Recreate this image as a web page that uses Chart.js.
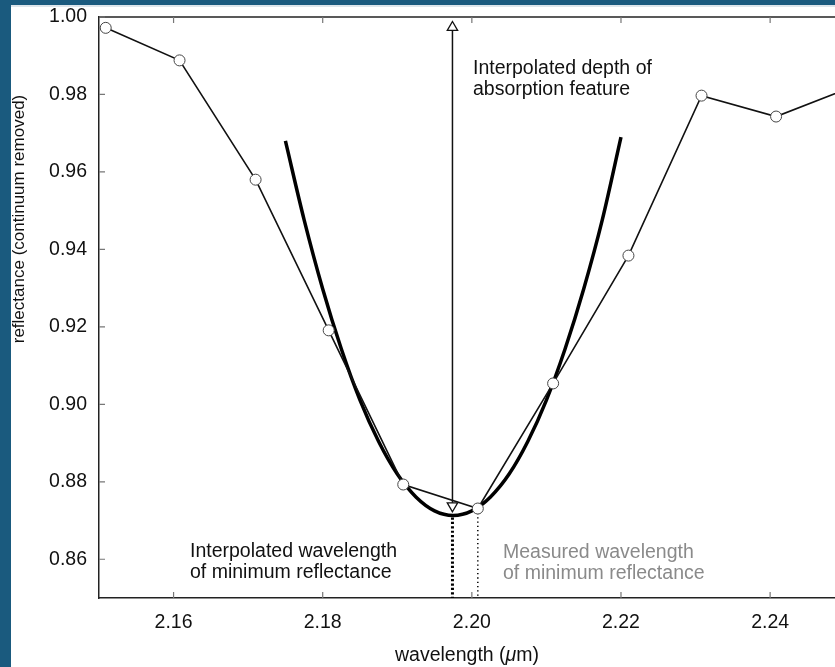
<!DOCTYPE html>
<html>
<head>
<meta charset="utf-8">
<script src="https://cdn.jsdelivr.net/npm/chart.js@4.4.1/dist/chart.umd.min.js"></script>
<style>
    html, body { margin: 0; padding: 0; background: #fff; }
    body { width: 835px; height: 667px; position: relative; overflow: hidden; }
    #topBar { position: absolute; left: 0; top: 0; width: 835px; height: 5px; background: #1a5a7e; border-bottom: 2px solid #dde5eb; }
    #leftBar { position: absolute; left: 0; top: 0; width: 11px; height: 667px; background: #1a5a7e; }
    #chart { position: absolute; left: 0; top: 0; }
</style>
</head>
<body>
<div id="topBar"></div>
<div id="leftBar"></div>
<canvas id="chart" width="835" height="667"></canvas>
<script>
// Measured spectrum (continuum removed)
const wavelengths = [2.1509, 2.1608, 2.1710, 2.1808, 2.1908, 2.2008, 2.2109, 2.2210, 2.2308, 2.2408, 2.2508];
const reflectance = [0.9972, 0.9888, 0.9580, 0.9191, 0.8793, 0.8731, 0.9054, 0.9384, 0.9797, 0.9743, 0.9818];

// Fitted curve through the minimum
const fitWavelengths = [2.175, 2.1775, 2.180, 2.1825, 2.185, 2.1875, 2.190, 2.1925, 2.195, 2.1975,
                        2.200, 2.2025, 2.205, 2.2075, 2.210, 2.2125, 2.215, 2.2175, 2.220];
const fitReflectance = [0.9680, 0.9477, 0.9298, 0.9143, 0.9011, 0.8904, 0.8820, 0.8761, 0.8725, 0.8713,
                        0.8725, 0.8761, 0.8820, 0.8904, 0.9011, 0.9143, 0.9298, 0.9477, 0.9690];

// Depth arrow and minimum markers
const arrowWavelength = [2.1974, 2.1974];
const arrowReflectance = [0.8738, 0.9973];
const interpMinWavelength = [2.1974, 2.1974];
const interpMinReflectance = [0.8708, 0.85];
const measMinWavelength = [wavelengths[5], wavelengths[5]];
const measMinReflectance = [reflectance[5], 0.85];

// Axes
const xTicks = [2.16, 2.18, 2.20, 2.22, 2.24];
const yTicks = [0.86, 0.88, 0.90, 0.92, 0.94, 0.96, 0.98, 1.00];

const FONT = "'Liberation Sans', Arial, Helvetica, sans-serif";
const FONT_SIZE = 19.5;

const pts = (xs, ys) => xs.map((x, i) => ({ x: x, y: ys[i] }));

// Inward ticks, top spine, axis titles and the notes
const extras = {
    id: 'extras',
    afterDraw(chart) {
        const ctx = chart.ctx;
        const area = chart.chartArea;
        const sx = chart.scales.x;
        const sy = chart.scales.y;
        ctx.save();

        ctx.strokeStyle = '#222';
        ctx.lineWidth = 1.5;
        ctx.beginPath();
        ctx.moveTo(area.left, area.top);
        ctx.lineTo(area.right, area.top);
        ctx.stroke();

        ctx.strokeStyle = '#777';
        ctx.lineWidth = 1.2;
        ctx.beginPath();
        xTicks.forEach(v => {
            const px = sx.getPixelForValue(v);
            ctx.moveTo(px, area.bottom);
            ctx.lineTo(px, area.bottom - 6);
            ctx.moveTo(px, area.top);
            ctx.lineTo(px, area.top + 6);
        });
        yTicks.forEach(v => {
            const py = sy.getPixelForValue(v);
            ctx.moveTo(area.left, py);
            ctx.lineTo(area.left + 6, py);
        });
        ctx.stroke();

        ctx.textBaseline = 'alphabetic';
        ctx.textAlign = 'left';

        // x title with italic mu
        const parts = [['wavelength (', ''], ['\u03bc', 'italic '], ['m)', '']];
        let total = 0;
        parts.forEach(p => { ctx.font = `${p[1]}${FONT_SIZE}px ${FONT}`; total += ctx.measureText(p[0]).width; });
        let tx = 467 - total / 2;
        ctx.fillStyle = '#111';
        parts.forEach(p => {
            ctx.font = `${p[1]}${FONT_SIZE}px ${FONT}`;
            ctx.fillText(p[0], tx, 661);
            tx += ctx.measureText(p[0]).width;
        });

        // y title
        ctx.font = `17px ${FONT}`;
        ctx.save();
        ctx.translate(24, 219);
        ctx.rotate(-Math.PI / 2);
        ctx.textAlign = 'center';
        ctx.fillText('reflectance (continuum removed)', 0, 0);
        ctx.restore();

        // notes
        ctx.font = `${FONT_SIZE}px ${FONT}`;
        ctx.fillStyle = '#111';
        ctx.fillText('Interpolated depth of', 473, 74);
        ctx.fillText('absorption feature', 473, 95);
        ctx.fillText('Interpolated wavelength', 190, 557);
        ctx.fillText('of minimum reflectance', 190, 578);
        ctx.fillStyle = '#8a8a8a';
        ctx.fillText('Measured wavelength', 503, 558);
        ctx.fillText('of minimum reflectance', 503, 579);

        ctx.restore();
    }
};

const chart = new Chart(document.getElementById('chart'), {
    type: 'scatter',
    data: {
        datasets: [
            {
                data: pts(arrowWavelength, arrowReflectance),
                showLine: true,
                borderColor: '#111',
                borderWidth: 1.5,
                pointStyle: 'triangle',
                pointRotation: [180, 0],
                pointRadius: 6,
                pointBackgroundColor: '#fff',
                pointBorderColor: '#111',
                pointBorderWidth: 1.3,
                order: 0
            },
            {
                data: pts(wavelengths, reflectance),
                showLine: true,
                borderColor: '#111',
                borderWidth: 1.6,
                pointRadius: 5.5,
                pointBackgroundColor: '#fff',
                pointBorderColor: '#444',
                pointBorderWidth: 1,
                order: 1
            },
            {
                data: pts(fitWavelengths, fitReflectance),
                showLine: true,
                borderColor: '#000',
                borderWidth: 3.5,
                pointRadius: 0,
                cubicInterpolationMode: 'monotone',
                order: 2
            },
            {
                data: pts(interpMinWavelength, interpMinReflectance),
                showLine: true,
                borderColor: '#000',
                borderWidth: 3,
                borderDash: [2.2, 2.2],
                pointRadius: 0,
                order: 3
            },
            {
                data: pts(measMinWavelength, measMinReflectance),
                showLine: true,
                borderColor: '#000',
                borderWidth: 1.5,
                borderDash: [1.3, 3],
                pointRadius: 0,
                order: 3
            }
        ]
    },
    options: {
        responsive: false,
        animation: false,
        devicePixelRatio: 1,
        layout: { autoPadding: false, padding: { top: 17, right: 0, bottom: 0, left: 0 } },
        plugins: {
            legend: { display: false },
            tooltip: { enabled: false }
        },
        scales: {
            x: {
                type: 'linear',
                min: 2.15,
                max: 2.2487,
                afterBuildTicks: s => { s.ticks = xTicks.map(v => ({ value: v })); },
                afterFit: s => {
                    s.height = 69;
                    s.paddingLeft = 0;
                    s.paddingRight = 0;
                },
                ticks: {
                    callback: v => v.toFixed(2),
                    font: { family: FONT, size: FONT_SIZE },
                    color: '#111',
                    padding: 5,
                    maxRotation: 0
                },
                grid: { display: false },
                border: { display: true, color: '#222', width: 1.5 }
            },
            y: {
                min: 0.85,
                max: 1.0,
                afterBuildTicks: s => { s.ticks = yTicks.map(v => ({ value: v })); },
                afterFit: s => {
                    s.width = 99;
                    s.paddingTop = 0;
                    s.paddingBottom = 0;
                },
                ticks: {
                    callback: v => v.toFixed(2),
                    font: { family: FONT, size: FONT_SIZE },
                    color: '#111',
                    padding: 4
                },
                grid: { display: false },
                border: { display: true, color: '#222', width: 1.5 }
            }
        }
    },
    plugins: [extras]
});
</script>
</body>
</html>
